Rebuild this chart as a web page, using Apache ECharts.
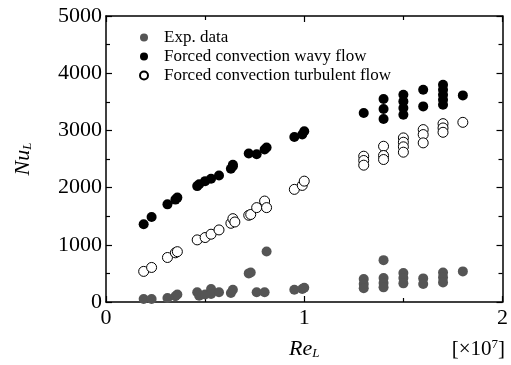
<!DOCTYPE html>
<html>
<head>
<meta charset="utf-8">
<script src="https://cdn.jsdelivr.net/npm/echarts@6/dist/echarts.min.js"></script>
<style>
  html, body { margin: 0; padding: 0; background: #fff; }
  #chart { width: 511px; height: 365px; }
</style>
</head>
<body>
<div id="chart"></div>
<script>
// Re_L in units of 1e7, Nu_L
const expData = [
  [0.19, 52], [0.23, 52], [0.31, 70], [0.35, 99], [0.36, 130],
  [0.46, 169], [0.47, 110], [0.50, 130], [0.53, 226], [0.53, 140], [0.57, 169],
  [0.63, 157], [0.64, 215], [0.72, 500], [0.73, 517], [0.76, 169], [0.80, 169], [0.81, 883],
  [0.95, 215], [0.99, 226], [1.0, 250],
  [1.3, 401], [1.3, 314], [1.3, 239],
  [1.4, 732], [1.4, 418], [1.4, 331], [1.4, 256],
  [1.5, 505], [1.5, 418], [1.5, 326],
  [1.6, 413], [1.6, 314],
  [1.7, 517], [1.7, 430], [1.7, 343],
  [1.8, 535]
]
const wavyData = [
  [0.19, 1359], [0.23, 1486], [0.31, 1707], [0.35, 1790], [0.36, 1825],
  [0.46, 2026], [0.47, 2060], [0.50, 2113], [0.53, 2155], [0.57, 2212],
  [0.63, 2330], [0.64, 2375], [0.64, 2400],
  [0.72, 2596], [0.76, 2584], [0.80, 2665], [0.81, 2700],
  [0.95, 2886], [0.99, 2927], [1.0, 2985],
  [1.3, 3305],
  [1.4, 3549], [1.4, 3374], [1.4, 3200],
  [1.5, 3624], [1.5, 3507], [1.5, 3391], [1.5, 3275],
  [1.6, 3711], [1.6, 3420],
  [1.7, 3798], [1.7, 3711], [1.7, 3624], [1.7, 3537], [1.7, 3449],
  [1.8, 3612]
]
const turbData = [
  [0.19, 535], [0.23, 604], [0.31, 778], [0.35, 860], [0.36, 880],
  [0.46, 1086], [0.50, 1127], [0.53, 1185], [0.57, 1260],
  [0.63, 1376], [0.64, 1457], [0.65, 1399],
  [0.72, 1516], [0.73, 1530], [0.76, 1650], [0.80, 1765], [0.81, 1650],
  [0.95, 1969], [0.99, 2038], [1.0, 2113],
  [1.3, 2549], [1.3, 2474], [1.3, 2392],
  [1.4, 2723], [1.4, 2561], [1.4, 2491],
  [1.5, 2869], [1.5, 2793], [1.5, 2713], [1.5, 2619],
  [1.6, 3014], [1.6, 2927], [1.6, 2782],
  [1.7, 3118], [1.7, 3043], [1.7, 2967],
  [1.8, 3141]
]
const seriesNames = ['Exp. data', 'Forced convection wavy flow', 'Forced convection turbulent flow']

const font = 'Liberation Serif, Times New Roman, serif'
const chart = echarts.init(document.getElementById('chart'))

const baseAxis = {
  axisLine: { onZero: false, lineStyle: { color: '#000', width: 1.5 } },
  axisTick: { inside: true, length: 6, lineStyle: { color: '#000', width: 1.2 } },
  minorTick: { show: true, splitNumber: 2, length: 4, lineStyle: { color: '#000', width: 1.2 } },
  splitLine: { show: false }
}

const subRich = {
  i: { fontFamily: font, fontStyle: 'italic', fontSize: 22, color: '#000' },
  s: { fontFamily: font, fontStyle: 'italic', fontSize: 13, color: '#000', verticalAlign: 'bottom', padding: [8, 0, 0, 0] }
}

const option = {
  animation: false,
  grid: { left: 106, right: 5, top: 16, bottom: 62 },
  legend: {
    orient: 'vertical',
    left: 134,
    top: 24,
    itemGap: 2,
    itemWidth: 8,
    itemHeight: 8,
    icon: 'circle',
    data: seriesNames,
    textStyle: { fontFamily: font, fontSize: 17, color: '#000', padding: [0, 0, 0, 11] }
  },
  xAxis: [
    Object.assign({}, baseAxis, {
      type: 'value', min: 0, max: 2, interval: 1,
      name: '{i|Re}{s|L}',
      nameLocation: 'middle',
      nameGap: 36,
      nameTextStyle: { rich: subRich },
      axisLabel: { fontFamily: font, fontSize: 22, color: '#000', margin: 5 }
    }),
    Object.assign({}, baseAxis, {
      type: 'value', min: 0, max: 2, interval: 1, position: 'top',
      axisLabel: { show: false }
    })
  ],
  yAxis: [
    Object.assign({}, baseAxis, {
      type: 'value', min: 0, max: 5000, interval: 1000,
      name: '{i|Nu}{s|L}',
      nameLocation: 'middle',
      nameGap: 72,
      nameRotate: 90,
      nameTextStyle: { rich: subRich },
      axisLabel: { fontFamily: font, fontSize: 22, color: '#000', margin: 4, formatter: v => String(v) }
    }),
    Object.assign({}, baseAxis, {
      type: 'value', min: 0, max: 5000, interval: 1000, position: 'right',
      axisLabel: { show: false }
    })
  ],
  graphic: [{
    type: 'text',
    right: 6,
    top: 338,
    style: {
      text: '[×10{sup|7}]',
      font: '21px ' + font,
      fill: '#000',
      rich: {
        sup: { fontFamily: font, fontSize: 13, fill: '#000', verticalAlign: 'top', padding: [0, 0, 10, 0] }
      }
    }
  }],
  series: [
    {
      name: seriesNames[1], type: 'scatter', data: wavyData, symbolSize: 10,
      itemStyle: { color: '#000', opacity: 1 }
    },
    {
      name: seriesNames[2], type: 'scatter', data: turbData, symbolSize: 10,
      itemStyle: { color: '#fff', borderColor: '#000', borderWidth: 1, opacity: 1 }
    },
    {
      name: seriesNames[0], type: 'scatter', data: expData, symbolSize: 10,
      itemStyle: { color: '#555', opacity: 1 }
    }
  ]
}

chart.setOption(option)
</script>
</body>
</html>
